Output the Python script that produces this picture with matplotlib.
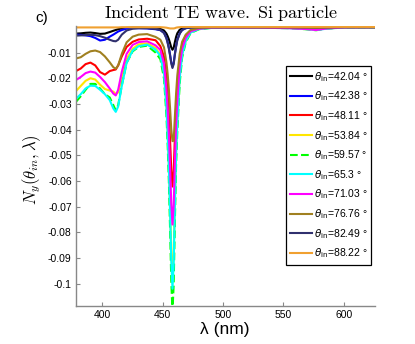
import numpy as np
import matplotlib
matplotlib.use('Agg')
import matplotlib.pyplot as plt
from matplotlib.font_manager import FontProperties

plt.rcParams['font.family'] = ['Liberation Sans', 'DejaVu Sans']
plt.rcParams['axes.unicode_minus'] = False

# wavelength grid (nm)
lam = [378, 382, 386, 390, 394, 398, 402, 406, 409, 411, 413, 416, 420, 425, 430, 437,
       444, 448, 451, 453, 454, 455, 456, 457, 458, 459, 460, 461, 462, 464, 466, 469,
       473, 480, 490, 505, 530, 555, 568, 577, 586, 600, 626]

angles = ['42.04', '42.38', '48.11', '53.84', '59.57', '65.3', '71.03', '76.76', '82.49', '88.22']

ny_4204 = [-0.0026, -0.0025, -0.0023, -0.0022, -0.0024, -0.0027, -0.0026, -0.0020, -0.0015, -0.0012,
           -0.0009, -0.0006, -0.0004, -0.0003, -0.0003, -0.0004,
           -0.0006, -0.0008, -0.0014, -0.0026, -0.0036, -0.0048, -0.0063, -0.0080, -0.0089, -0.0081,
           -0.0059, -0.0039, -0.0025, -0.0011, -0.0006, -0.0003,
           -0.0002, -0.0001, -0.0001, -0.0001, -0.0001, -0.0001, -0.0001, -0.0001, -0.0001, -0.0001, -0.0001]

ny_4238 = [-0.0030, -0.0031, -0.0033, -0.0036, -0.0043, -0.0053, -0.0050, -0.0038, -0.0030, -0.0024,
           -0.0018, -0.0012, -0.0007, -0.0005, -0.0005, -0.0006,
           -0.0009, -0.0013, -0.0023, -0.0043, -0.0060, -0.0081, -0.0108, -0.0138, -0.0155, -0.0141,
           -0.0105, -0.0075, -0.0050, -0.0025, -0.0012, -0.0005,
           -0.0002, -0.0001, -0.0001, -0.0001, -0.0001, -0.0001, -0.0002, -0.0002, -0.0001, -0.0001, -0.0001]

ny_4811 = [-0.0172, -0.0162, -0.0145, -0.0139, -0.0150, -0.0176, -0.0186, -0.0172, -0.0168, -0.0166,
           -0.0150, -0.0115, -0.0078, -0.0058, -0.0049, -0.0046,
           -0.0052, -0.0075, -0.0117, -0.0197, -0.0259, -0.0339, -0.0441, -0.0554, -0.0622, -0.0564,
           -0.0430, -0.0310, -0.0235, -0.0125, -0.0070, -0.0035,
           -0.0014, -0.0005, -0.0002, -0.0002, -0.0002, -0.0003, -0.0004, -0.0006, -0.0004, -0.0001, -0.0001]

ny_5384 = [-0.0250, -0.0230, -0.0210, -0.0200, -0.0205, -0.0225, -0.0242, -0.0248, -0.0252, -0.0262,
           -0.0255, -0.0200, -0.0125, -0.0085, -0.0068, -0.0064,
           -0.0082, -0.0109, -0.0177, -0.0303, -0.0402, -0.0529, -0.0691, -0.0871, -0.0980, -0.0887,
           -0.0670, -0.0480, -0.0365, -0.0190, -0.0105, -0.0053,
           -0.0021, -0.0008, -0.0003, -0.0003, -0.0003, -0.0004, -0.0007, -0.0010, -0.0006, -0.0002, -0.0001]

ny_5957 = [-0.0292, -0.0270, -0.0245, -0.0222, -0.0222, -0.0240, -0.0262, -0.0275, -0.0305, -0.0325,
           -0.0305, -0.0228, -0.0140, -0.0095, -0.0078, -0.0073,
           -0.0100, -0.0126, -0.0202, -0.0346, -0.0458, -0.0600, -0.0784, -0.0988, -0.1110, -0.1005,
           -0.0760, -0.0540, -0.0410, -0.0220, -0.0120, -0.0060,
           -0.0024, -0.0009, -0.0004, -0.0003, -0.0003, -0.0005, -0.0009, -0.0013, -0.0007, -0.0002, -0.0001]

ny_653 = [-0.0280, -0.0262, -0.0240, -0.0229, -0.0230, -0.0245, -0.0262, -0.0285, -0.0318, -0.0331,
          -0.0310, -0.0230, -0.0140, -0.0092, -0.0075, -0.0069,
          -0.0089, -0.0113, -0.0183, -0.0315, -0.0418, -0.0550, -0.0720, -0.0908, -0.1020, -0.0924,
          -0.0700, -0.0500, -0.0380, -0.0200, -0.0110, -0.0055,
          -0.0022, -0.0008, -0.0004, -0.0003, -0.0003, -0.0005, -0.0008, -0.0012, -0.0007, -0.0002, -0.0001]

ny_7103 = [-0.0207, -0.0195, -0.0180, -0.0174, -0.0178, -0.0195, -0.0215, -0.0240, -0.0260, -0.0267,
           -0.0245, -0.0175, -0.0105, -0.0070, -0.0059, -0.0056,
           -0.0072, -0.0090, -0.0143, -0.0242, -0.0319, -0.0418, -0.0545, -0.0686, -0.0770, -0.0698,
           -0.0530, -0.0380, -0.0290, -0.0152, -0.0085, -0.0043,
           -0.0017, -0.0007, -0.0003, -0.0003, -0.0003, -0.0005, -0.0008, -0.0012, -0.0006, -0.0002, -0.0001]

ny_7676 = [-0.0123, -0.0118, -0.0105, -0.0095, -0.0092, -0.0098, -0.0115, -0.0138, -0.0157, -0.0163,
           -0.0150, -0.0105, -0.0060, -0.0038, -0.0030, -0.0028,
           -0.0039, -0.0050, -0.0080, -0.0138, -0.0183, -0.0242, -0.0316, -0.0398, -0.0445, -0.0443,
           -0.0350, -0.0260, -0.0190, -0.0105, -0.0058, -0.0030,
           -0.0012, -0.0004, -0.0002, -0.0002, -0.0002, -0.0002, -0.0003, -0.0004, -0.0003, -0.0001, -0.0001]

ny_8249 = [-0.0034, -0.0033, -0.0032, -0.0031, -0.0032, -0.0036, -0.0042, -0.0050, -0.0055, -0.0056,
           -0.0050, -0.0030, -0.0014, -0.0007, -0.0005, -0.0005,
           -0.0008, -0.0012, -0.0024, -0.0045, -0.0062, -0.0084, -0.0111, -0.0142, -0.0160, -0.0145,
           -0.0108, -0.0077, -0.0052, -0.0026, -0.0012, -0.0005,
           -0.0002, -0.0001, -0.0001, -0.0001, -0.0001, -0.0001, -0.0001, -0.0001, -0.0001, -0.0001, -0.0001]

ny_8822 = [-0.0002, -0.0002, -0.0002, -0.0002, -0.0002, -0.0002, -0.0002, -0.0002, -0.0002, -0.0002,
           -0.0002, -0.0001, -0.0001, -0.0001, -0.0001, -0.0001,
           -0.0001, -0.0001, -0.0002, -0.0003, -0.0004, -0.0005, -0.0006, -0.0006, -0.0006, -0.0006,
           -0.0005, -0.0003, -0.0002, -0.0001, 0.0, 0.0,
           0.0, 0.0, 0.0, 0.0, 0.0, 0.0, 0.0, 0.0, 0.0, 0.0, 0.0]

series = [ny_4204, ny_4238, ny_4811, ny_5384, ny_5957, ny_653, ny_7103, ny_7676, ny_8249, ny_8822]
colors = ['#000000', '#0000ff', '#ff0000', '#ffe600', '#00ff00', '#00ffff', '#ff00ff',
          '#a08020', '#30306e', '#f0a030']
styles = ['-', '-', '-', '-', '--', '-', '-', '-', '-', '-']

xticks = [400, 450, 500, 550, 600]
yticks = [-0.1, -0.09, -0.08, -0.07, -0.06, -0.05, -0.04, -0.03, -0.02, -0.01]
ytick_labels = ['-0.1', '-0.09', '-0.08', '-0.07', '-0.06', '-0.05', '-0.04', '-0.03', '-0.02', '-0.01']

fig = plt.figure(figsize=(4.15, 3.44), dpi=100)
ax = fig.add_axes([0.183, 0.110, 0.721, 0.814])

for y, c, ls, a in zip(series, colors, styles, angles):
    ax.plot(lam, y, color=c, ls=ls, lw=1.5, label=r'$\theta_{\mathrm{in}}$=' + a + ' °')

ax.set_xlim(378, 626)
ax.set_ylim(-0.1088, 0.0003)
ax.set_xticks(xticks)
ax.set_yticks(yticks)
ax.set_yticklabels(ytick_labels)
ax.tick_params(direction='in', length=3, width=0.8, color='#888888', labelsize=7.5, pad=3)
for s in ['top', 'right']:
    ax.spines[s].set_visible(False)
for s in ['left', 'bottom']:
    ax.spines[s].set_color('#888888')
    ax.spines[s].set_linewidth(1.0)

leg = ax.legend(loc='upper left', bbox_to_anchor=(0.688, 0.809), bbox_transform=fig.transFigure,
                borderaxespad=0, fancybox=False, framealpha=1, edgecolor='black',
                prop=FontProperties(family='Liberation Sans', size=7.5, math_fontfamily='dejavusans'),
                handlelength=2.1, handletextpad=0.2, labelspacing=0.56, borderpad=0.4)
leg.get_frame().set_linewidth(0.9)

fig.text(0.533, 0.962, r'$\mathrm{Incident\ TE\ wave.\ Si\ particle}$', ha='center', va='center',
         fontsize=13, math_fontfamily='cm')
fig.text(0.101, 0.948, 'c)', ha='center', va='center', fontsize=11)
fig.text(0.077, 0.506, r'$N_y(\theta_{in},\lambda)$', ha='center', va='center', rotation=90,
         fontsize=12, math_fontfamily='cm')
fig.text(0.542, 0.041, 'λ (nm)', ha='center', va='center', fontsize=12.5)

fig.savefig('out.png', dpi=100)
